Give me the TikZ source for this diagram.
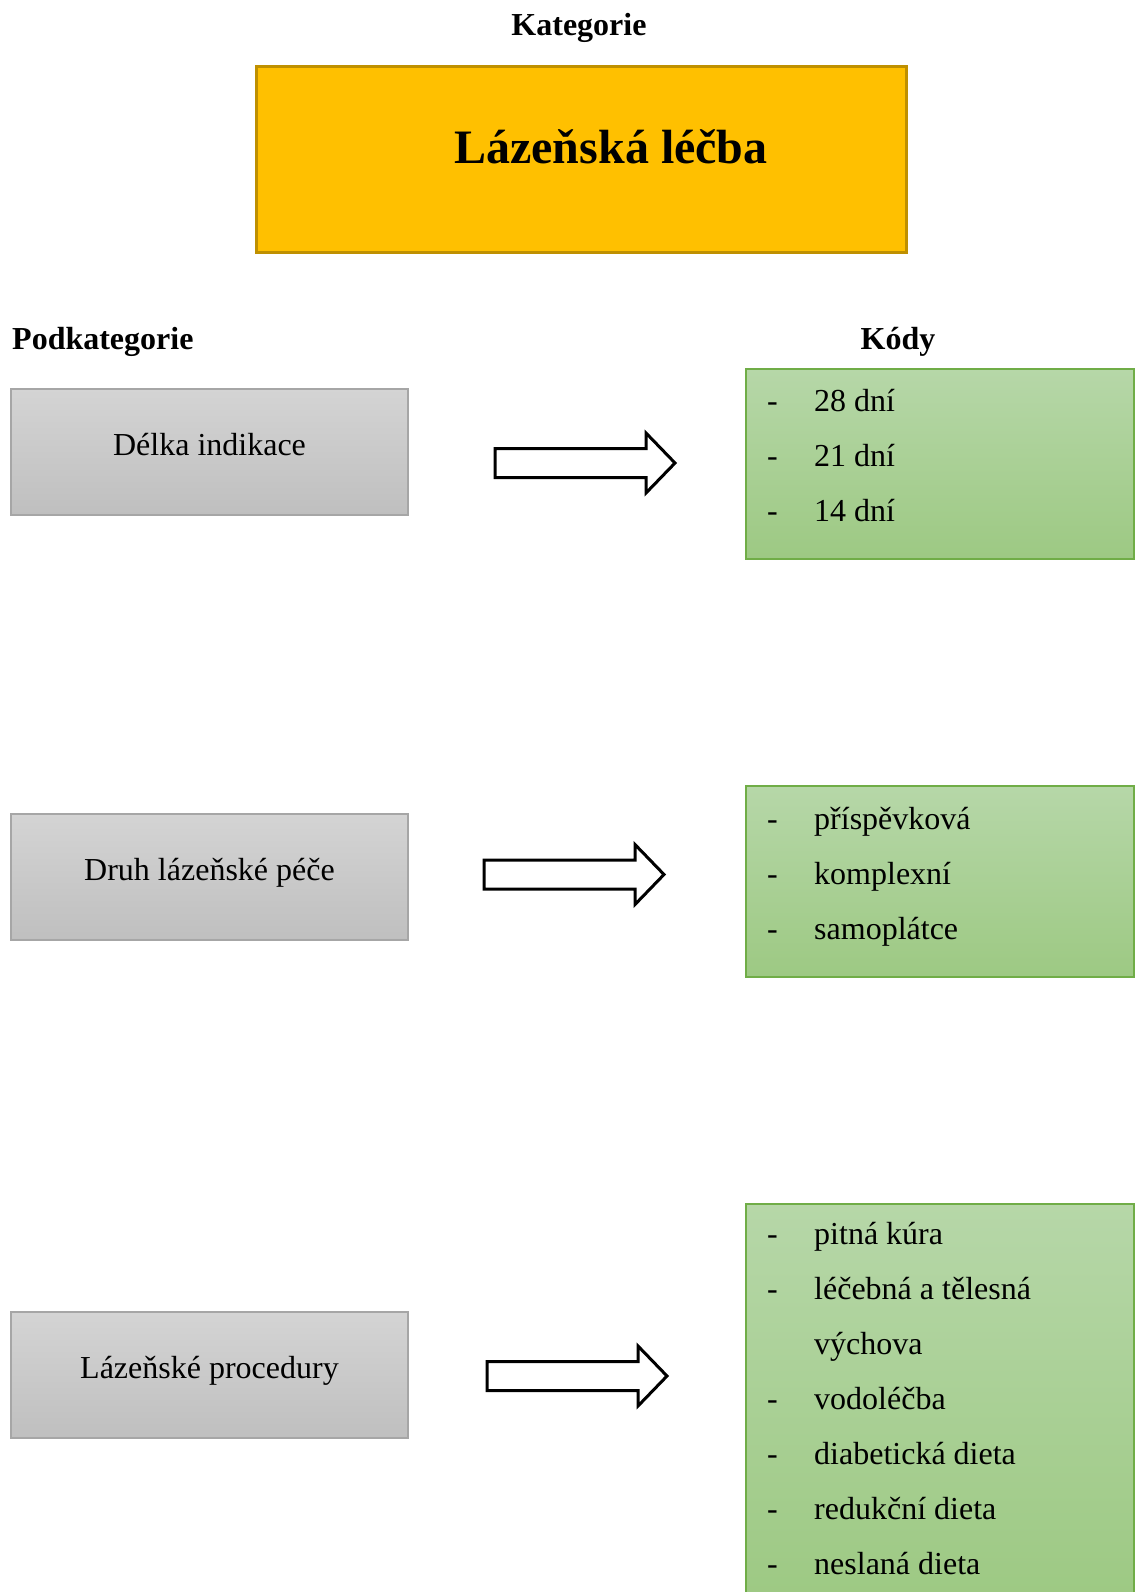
\documentclass[tikz,border=0pt]{standalone}
\usepackage{fontspec}
\setmainfont{Liberation Serif}
\definecolor{catfill}{RGB}{255,192,0}
\definecolor{catborder}{RGB}{191,144,0}
\definecolor{subtop}{RGB}{212,212,212}
\definecolor{subbot}{RGB}{191,191,191}
\definecolor{subborder}{RGB}{166,166,166}
\definecolor{codetop}{RGB}{182,215,168}
\definecolor{codebot}{RGB}{157,201,131}
\definecolor{codeborder}{RGB}{112,173,71}
\begin{document}
\begin{tikzpicture}[x=1pt,y=-1pt,
  body/.style={font=\fontsize{32}{38}\selectfont, inner sep=0pt},
  heading/.style={font=\fontsize{32}{38}\selectfont\bfseries, inner sep=0pt},
  catbox/.style={draw=catborder, line width=3pt, fill=catfill,
    minimum width=650pt, minimum height=185pt, inner sep=0pt},
  subbox/.style={draw=subborder, line width=1.2pt, top color=subtop, bottom color=subbot,
    minimum width=397pt, minimum height=126pt, inner sep=0pt},
  codebox/.style={draw=codeborder, line width=1.5pt, top color=codetop, bottom color=codebot,
    minimum width=388pt, inner sep=0pt},
  item/.style={body, anchor=base west},
  blockarrow/.pic={
    \draw[line width=3pt, fill=white, line join=miter]
      (0,-14.5) -- (151,-14.5) -- (151,-30) -- (180,0) -- (151,30)
      -- (151,14.5) -- (0,14.5) -- cycle;}
]
\useasboundingbox (0,0) rectangle (1135,1592);
\clip (0,0) rectangle (1135,1592);

% headings
\node[heading, anchor=base] (kat) at (579,36) {Kategorie};
\node[heading, anchor=base west] (podkat) at (12,349) {Podkategorie};
\node[heading, anchor=base] (kody) at (898,349) {Kódy};

% category box
\node[catbox] (cat) at (581,159.5) {};
\node[inner sep=0pt, anchor=base, font=\fontsize{48}{56}\selectfont\bfseries] (cattext) at (611,164) {Lázeňská léčba};

% subcategory boxes
\node[subbox] (s1) at (209.5,452) {};
\node[body, anchor=base] (s1t) at (209.5,455.5) {Délka indikace};
\node[subbox] (s2) at (209.5,877) {};
\node[body, anchor=base] (s2t) at (209.5,880.5) {Druh lázeňské péče};
\node[subbox] (s3) at (209.5,1375) {};
\node[body, anchor=base] (s3t) at (209.5,1378.5) {Lázeňské procedury};

% block arrows
\pic at (495,463) {blockarrow};
\pic at (484,874.5) {blockarrow};
\pic at (487,1376) {blockarrow};

% code boxes
\node[codebox, minimum height=190pt] (c1) at (940,464) {};
\node[codebox, minimum height=191pt] (c2) at (940,881.5) {};
\node[codebox, minimum height=396pt] (c3) at (940,1402) {};

% code lists
\foreach \y/\t [count=\i] in {411/28 dní, 466/21 dní, 521/14 dní}{
  \node[item] (c1d\i) at (767,\y) {-};
  \node[item] (c1t\i) at (814,\y) {\t};
}
\foreach \y/\t [count=\i] in {829/příspěvková, 884/komplexní, 939/samoplátce}{
  \node[item] (c2d\i) at (767,\y) {-};
  \node[item] (c2t\i) at (814,\y) {\t};
}
\foreach \y/\t [count=\i] in {1244/pitná kúra, 1299/léčebná a tělesná, 1409/vodoléčba,
    1464/diabetická dieta, 1519/redukční dieta, 1574/neslaná dieta}{
  \node[item] (c3d\i) at (767,\y) {-};
  \node[item] (c3t\i) at (814,\y) {\t};
}
\node[item] (c3t2b) at (814,1354) {výchova};
\end{tikzpicture}
\end{document}
